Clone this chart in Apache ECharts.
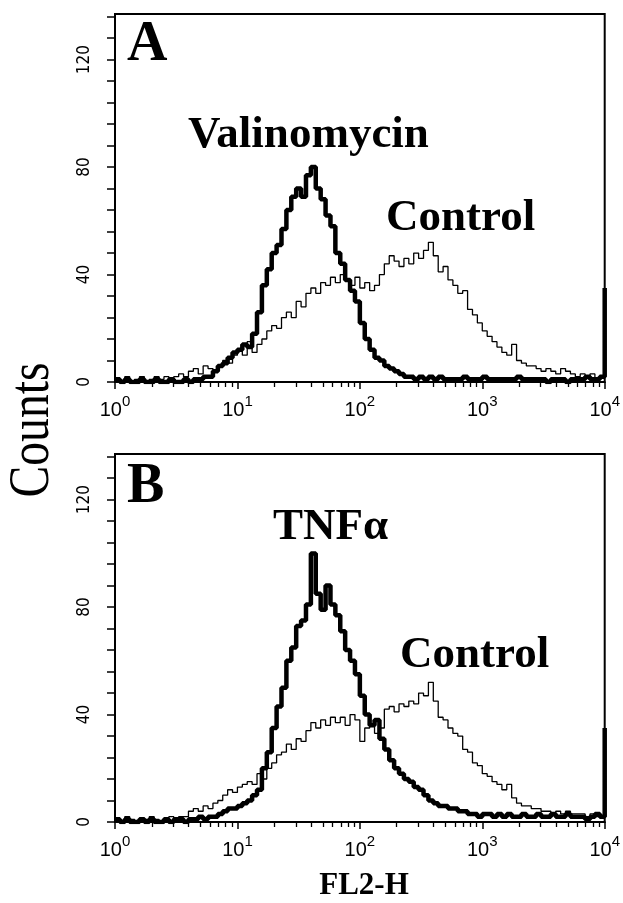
<!DOCTYPE html>
<html><head><meta charset="utf-8">
<script src="https://cdn.jsdelivr.net/npm/echarts@6/dist/echarts.min.js"></script>
<style>html,body{margin:0;padding:0;background:#fff}#c{width:623px;height:903px}</style>
</head><body><div id="c"></div>
<script>
// histogram bins: 25 bins per decade over 10^0 .. 10^4 (FL2-H)
const binsPerDecade = 25;
const decadeTicks = [1, 10, 100, 1000, 10000];
const countTickLabels = [0, 40, 80, 120];

// Panel A
const controlA = [1,0,2,0,1,2,0,1,2,1, 2,1,2,3,2, 4,5,3,6,5, 4,6,8,7,10, 12,10,15,11,14,
  16,19,21,20,24, 26,24,30,28,33, 35,33,37,36,39, 37,40,38,36,39, 35,37,34,36,40,
  44,47,45,43,46, 44,48,46,49,52, 47,41,43,38,36, 33,34,27,25,22, 19,17,15,13,11,
  10,14,8,7,6, 6,5,4,5,4, 3,5,4,3,2, 3,2,3,1,2];
const valinomycinA = [1,0,1,0,0,1,0,0,1,0, 0,1,0,0,1, 0,1,1,2,2, 4,6,7,9,11, 12,14,13,18,26,
  36,42,48,51,57, 64,69,72,69,77, 80,72,68,62,58, 48,44,38,34,30, 22,16,12,9,8,
  6,5,4,3,2, 2,1,2,1,2, 1,2,1,1,1, 1,2,1,1,1, 2,1,1,1,1, 1,1,2,1,1, 1,1,1,0,1,
  1,1,0,1,1, 1,2,1,1,2, 35];

// Panel B
const controlB = [1,0,2,1,0,1,1,2,1,0, 1,2,1,2,2, 4,5,4,6,5, 7,8,10,12,11, 13,14,15,14,18,
  16,20,22,25,26, 29,27,31,30,34, 37,35,38,36,39, 37,39,36,40,38, 30,35,36,33,35,
  42,43,41,44,43, 45,44,48,47,52, 45,39,38,35,33, 32,27,26,22,21, 18,17,15,14,12,
  14,9,7,6,6, 5,5,4,4,3, 4,3,4,3,3, 3,2,3,2,3];
const tnfB = [1,0,1,0,0,1,0,1,0,0, 1,0,1,1,0, 1,1,2,1,2, 2,3,4,5,5, 6,7,8,10,12,
  20,26,35,43,50, 60,65,73,75,81, 100,85,79,88,81, 77,71,64,60,55, 47,40,36,38,31,
  27,23,20,18,16, 15,13,12,10,8, 7,6,6,5,5, 4,4,3,3,2, 3,3,2,3,2, 3,2,2,3,2,
  2,3,2,2,3, 2,2,3,2,2, 2,1,2,3,2, 35];

function toPairs(arr) { return arr.map((v, i) => [Math.pow(10, i / binsPerDecade), v]); }

const chart = echarts.init(document.getElementById('c'), null, {renderer: 'canvas'});

function xAxisCfg(gi) {
  return {
    type: 'log', logBase: 10, min: 1, max: 10000, gridIndex: gi,
    axisLine: {show: true, lineStyle: {color: '#000', width: 2}},
    axisTick: {show: true, length: 7, lineStyle: {color: '#000', width: 1.5}},
    minorTick: {show: true, splitNumber: 9, length: 5, lineStyle: {color: '#000', width: 1.3}},
    splitLine: {show: false}, minorSplitLine: {show: false},
    axisLabel: {
      margin: 12, color: '#000',
      formatter: v => decadeTicks.indexOf(v) >= 0 ? '{b|10}{s|' + Math.round(Math.log10(v)) + '}' : '',
      rich: {
        b: {fontFamily: 'Liberation Sans', fontSize: 20, color: '#000', verticalAlign: 'bottom', lineHeight: 26},
        s: {fontFamily: 'Liberation Sans', fontSize: 15, color: '#000', verticalAlign: 'top', lineHeight: 26}
      }
    }
  };
}
function yAxisCfg(gi) {
  return {
    type: 'value', min: 0, max: 137, interval: 8, gridIndex: gi,
    axisLine: {show: true, lineStyle: {color: '#000', width: 2}},
    axisTick: {show: true, length: 8, lineStyle: {color: '#000', width: 1.5}},
    splitLine: {show: false},
    axisLabel: {
      rotate: 90, margin: 22, color: '#000',
      fontFamily: '"Liberation Sans Narrow", "DejaVu Sans Condensed", "Liberation Sans"', fontSize: 17,
      showMaxLabel: false,
      formatter: v => countTickLabels.indexOf(v) >= 0 ? String(v) : ''
    }
  };
}
function lineSeries(arr, gi, w) {
  return {
    type: 'line', xAxisIndex: gi, yAxisIndex: gi, data: toPairs(arr), step: 'end',
    symbol: 'none', silent: true, animation: false,
    lineStyle: {color: '#000', width: w}
  };
}

const serif = 'Liberation Serif';
function label(text, x, y, size) {
  return {type: 'text', left: x, top: y - size / 2, style: {text: text, font: 'bold ' + size + 'px "' + serif + '"', fill: '#000'}};
}

chart.setOption({
  backgroundColor: '#fff',
  animation: false,
  grid: [
    {left: 115, top: 14, width: 492, height: 368, show: true, borderColor: '#000', borderWidth: 2, backgroundColor: 'transparent'},
    {left: 115, top: 454, width: 492, height: 368, show: true, borderColor: '#000', borderWidth: 2, backgroundColor: 'transparent'}
  ],
  xAxis: [xAxisCfg(0), xAxisCfg(1)],
  yAxis: [yAxisCfg(0), yAxisCfg(1)],
  series: [
    lineSeries(controlA, 0, 1.3),
    lineSeries(valinomycinA, 0, 4.5),
    lineSeries(controlB, 1, 1.3),
    lineSeries(tnfB, 1, 4.5)
  ],
  graphic: [
    label('A', 127, 46, 56),
    label('Valinomycin', 188, 135, 45),
    label('Control', 386, 218, 45),
    label('B', 127, 488, 56),
    label('TNFα', 273, 527, 45),
    label('Control', 400, 655, 45),
    {type: 'text', x: 364, y: 886, style: {text: 'FL2-H', font: 'bold 31px "' + serif + '"', fill: '#000', align: 'center', verticalAlign: 'middle'}},
    {type: 'text', x: 33, y: 430, rotation: Math.PI / 2, scaleX: 0.82,
     style: {text: 'Counts', font: '58px "' + serif + '"', fill: '#000', align: 'center', verticalAlign: 'middle'}}
  ]
});
</script></body></html>
